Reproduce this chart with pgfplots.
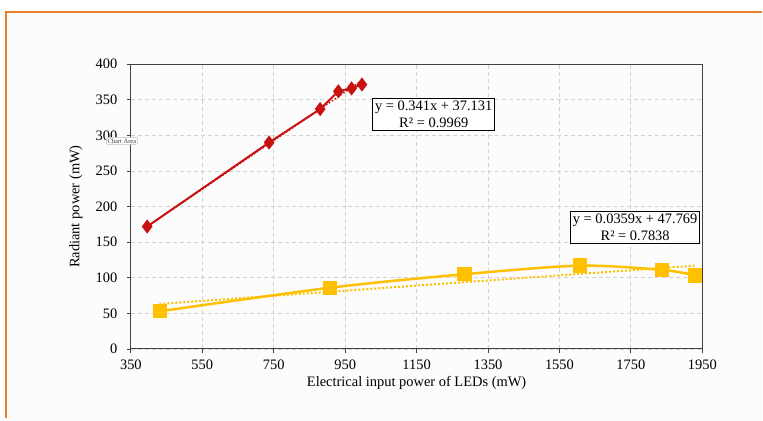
\documentclass[border=0pt]{standalone}
\usepackage{fontspec}
\setmainfont{Liberation Serif}
\usepackage{pgfplots}
\pgfplotsset{compat=1.18}
\definecolor{myred}{RGB}{200,18,18}
\definecolor{myyellow}{RGB}{255,192,0}
\definecolor{frameor}{RGB}{237,125,49}
\definecolor{axgray}{RGB}{64,64,64}
\begin{document}
\begin{tikzpicture}[x=1bp,y=1bp]
\fill[white] (0,0) rectangle (763,421);
\fill[black!1] (6,0) rectangle (763,409);
\draw[frameor, line width=1.5bp] (6,3) -- (6,409) -- (763,409);
\begin{axis}[
  at={(131bp,71.7bp)}, anchor=south west,
  scale only axis, width=572bp, height=285bp,
  xmin=350, xmax=1950, ymin=0, ymax=400,
  xtick={350,550,...,1950}, ytick={0,50,...,400},
  /pgf/number format/assume math mode=true,
  /pgf/number format/1000 sep={},
  tick label style={font=\fontsize{14.5}{17}\selectfont, text=black},
  xticklabel style={yshift=-3.5bp},
  yticklabel style={xshift=-6bp},
  label style={font=\fontsize{14.5}{17}\selectfont},
  xlabel={Electrical input power of LEDs (mW)},
  ylabel={Radiant power (mW)},
  xlabel style={at={(axis description cs:0.5,-0.118)}, anchor=center},
  ylabel style={at={(axis description cs:-0.096,0.5)}, anchor=center},
  grid=major,
  major grid style={dash pattern=on 4bp off 3bp, black!18, line width=0.8bp},
  axis line style={axgray, line width=1bp},
  tick style={axgray, line width=0.8bp},
  tick align=outside, major tick length=4bp,
  xtick pos=bottom, ytick pos=left,
  clip=false,
]
% red trendline
\addplot[myred, dotted, line width=1.5bp, forget plot] coordinates {(395.6,172.0) (997,377.1)};
% red series
\addplot[myred, line width=2bp, mark=diamond*, mark size=5.5bp, mark options={solid, fill=myred}]
 coordinates {(395.6,172) (737,290) (880,337) (931,362) (968,366) (997,371.5)};
% yellow trendline
\addplot[myyellow, dotted, line width=2bp, forget plot] coordinates {(430,63.2) (1931,117.1)};
% yellow series
\addplot[myyellow, line width=2.5bp, smooth, mark=square*, mark size=6bp, mark options={solid, fill=myyellow}]
 coordinates {(432,53) (907,86) (1284,105) (1607,117) (1837,111) (1930,103.5)};
\node[draw=black, line width=0.9bp, fill=white, align=center, inner sep=2.5bp,
  font=\fontsize{14.5}{17.5}\selectfont] at (axis cs:1198,330)
  {y = 0.341x + 37.131\\R² = 0.9969};
\node[draw=black, line width=0.9bp, fill=white, align=center, inner sep=2.5bp,
  font=\fontsize{14.5}{17.5}\selectfont] at (axis cs:1762,171)
  {y = 0.0359x + 47.769\\R² = 0.7838};
\end{axis}
\node[draw=black!25, fill=white, rounded corners=1bp, inner sep=1.2bp,
  font=\fontsize{6.5}{7.5}\selectfont, text=black!75] at (122,280) {Chart Area};
\end{tikzpicture}
\end{document}
